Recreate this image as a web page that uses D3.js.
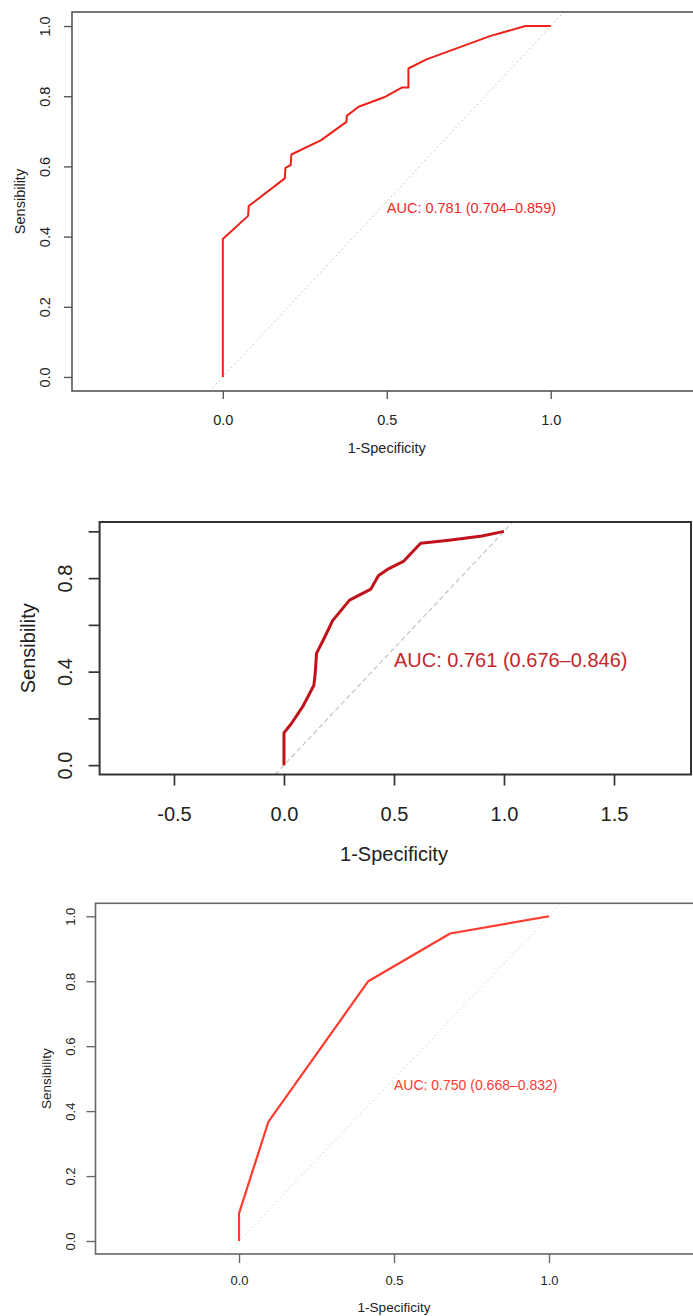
<!DOCTYPE html>
<html>
<head>
<meta charset="utf-8">
<script src="https://cdn.jsdelivr.net/npm/d3@7"></script>
<style>
  html, body { margin: 0; padding: 0; background: #fff; }
  svg { display: block; }
  text { font-family: "Liberation Sans", Arial, sans-serif; }
</style>
</head>
<body>
<svg id="chart" width="693" height="1316"></svg>
<script>
// ---------- Data ----------
const roc1Fpr = [0, 0, 0.077, 0.079, 0.189, 0.191, 0.207, 0.209, 0.300, 0.377, 0.378, 0.414, 0.492, 0.547, 0.566, 0.566, 0.621, 0.817, 0.923, 1.0];
const roc1Tpr = [0, 0.393, 0.459, 0.487, 0.566, 0.596, 0.604, 0.634, 0.675, 0.727, 0.744, 0.770, 0.797, 0.825, 0.825, 0.879, 0.905, 0.972, 1.0, 1.0];

const roc2Fpr = [0, 0, 0.034, 0.085, 0.136, 0.142, 0.148, 0.186, 0.221, 0.298, 0.395, 0.429, 0.470, 0.545, 0.621, 0.75, 0.9, 1.0];
const roc2Tpr = [0, 0.138, 0.178, 0.250, 0.342, 0.392, 0.478, 0.549, 0.618, 0.706, 0.753, 0.810, 0.837, 0.873, 0.949, 0.962, 0.980, 1.0];

const roc3Fpr = [0, 0, 0.095, 0.417, 0.681, 1.0];
const roc3Tpr = [0, 0.085, 0.368, 0.800, 0.947, 1.0];

const aucLabels = ["AUC: 0.781 (0.704\u20130.859)", "AUC: 0.761 (0.676\u20130.846)", "AUC: 0.750 (0.668\u20130.832)"];

const xTicks1 = [0, 0.5, 1.0];
const xTickLabels1 = ["0.0", "0.5", "1.0"];
const xTicks2 = [-0.5, 0, 0.5, 1.0, 1.5];
const xTickLabels2 = ["-0.5", "0.0", "0.5", "1.0", "1.5"];
const yTicks = [0, 0.2, 0.4, 0.6, 0.8, 1.0];
const yTickLabelsFull = ["0.0", "0.2", "0.4", "0.6", "0.8", "1.0"];
const yTickLabelsSparse = ["0.0", "", "0.4", "", "0.8", ""];

const xTitle = "1-Specificity";
const yTitle = "Sensibility";

// ---------- Panel layout ----------
const panels = [
  {
    fpr: roc1Fpr, tpr: roc1Tpr, auc: aucLabels[0],
    xDomain: [-0.46, 1.44], xRange: [72, 695],
    yDomain: [-0.04, 1.04], yRange: [391, 12],
    xTicks: xTicks1, xTickLabels: xTickLabels1,
    yTickLabels: yTickLabelsFull,
    curveColor: "#ee2119", curveWidth: 2, textColor: "#ee2a24",
    frameColor: "#555", frameWidth: 1.6,
    diagColor: "#bdbdbd", diagDash: "1.5,3", diagWidth: 1,
    tickFont: 14.5, titleFont: 14.5, aucFont: 14.5,
    tickLen: 8, yLabOff: 27, xLabOff: 29, xTitleOff: 57, yTitleOff: 52,
    aucPos: [0.5, 0.481]
  },
  {
    fpr: roc2Fpr, tpr: roc2Tpr, auc: aucLabels[1],
    xDomain: [-0.838, 1.85], xRange: [99.6, 691],
    yDomain: [-0.04, 1.04], yRange: [774.5, 522],
    xTicks: xTicks2, xTickLabels: xTickLabels2,
    yTickLabels: yTickLabelsSparse,
    curveColor: "#c0121b", curveWidth: 3, textColor: "#c4262c",
    frameColor: "#333", frameWidth: 2,
    diagColor: "#c4c4c4", diagDash: "5,3", diagWidth: 1.2,
    tickFont: 20, titleFont: 20, aucFont: 20,
    tickLen: 11, yLabOff: 35, xLabOff: 39, xTitleOff: 79, yTitleOff: 72,
    aucPos: [0.5, 0.449]
  },
  {
    fpr: roc3Fpr, tpr: roc3Tpr, auc: aucLabels[2],
    xDomain: [-0.463, 1.5], xRange: [95.5, 704],
    yDomain: [-0.04, 1.04], yRange: [1254, 903.3],
    xTicks: xTicks1, xTickLabels: xTickLabels1,
    yTickLabels: yTickLabelsFull,
    curveColor: "#ff3a2f", curveWidth: 2.2, textColor: "#ff3a30",
    frameColor: "#666", frameWidth: 1.6,
    diagColor: "#cfcfcf", diagDash: "1.5,3", diagWidth: 1,
    tickFont: 13, titleFont: 13.5, aucFont: 14,
    tickLen: 9, yLabOff: 25, xLabOff: 26, xTitleOff: 53, yTitleOff: 49.5,
    aucPos: [0.5, 0.481]
  }
];

const svg = d3.select("#chart");
svg.append("rect").attr("width", 693).attr("height", 1316).attr("fill", "#fff");

panels.forEach((p, i) => {
  const x = d3.scaleLinear().domain(p.xDomain).range(p.xRange);
  const y = d3.scaleLinear().domain(p.yDomain).range(p.yRange);
  const g = svg.append("g");

  const clipId = "clip" + i;
  svg.append("clipPath").attr("id", clipId)
    .append("rect")
    .attr("x", p.xRange[0]).attr("y", p.yRange[1])
    .attr("width", p.xRange[1] - p.xRange[0])
    .attr("height", p.yRange[0] - p.yRange[1]);

  // diagonal reference line
  const lo = p.yDomain[0], hi = p.yDomain[1];
  g.append("line")
    .attr("clip-path", `url(#${clipId})`)
    .attr("x1", x(lo)).attr("y1", y(lo))
    .attr("x2", x(hi)).attr("y2", y(hi))
    .attr("stroke", p.diagColor).attr("stroke-width", p.diagWidth)
    .attr("stroke-dasharray", p.diagDash);

  // ROC curve
  const pts = p.fpr.map((f, k) => [f, p.tpr[k]]);
  g.append("path")
    .datum(pts)
    .attr("fill", "none")
    .attr("stroke", p.curveColor)
    .attr("stroke-width", p.curveWidth)
    .attr("stroke-linejoin", "round")
    .attr("d", d3.line().x(d => x(d[0])).y(d => y(d[1])));

  // frame
  g.append("rect")
    .attr("x", p.xRange[0]).attr("y", p.yRange[1])
    .attr("width", p.xRange[1] - p.xRange[0])
    .attr("height", p.yRange[0] - p.yRange[1])
    .attr("fill", "none")
    .attr("stroke", p.frameColor).attr("stroke-width", p.frameWidth);

  // x axis
  const xAxis = d3.axisBottom(x).tickValues(p.xTicks)
    .tickFormat((d, k) => p.xTickLabels[k])
    .tickSize(p.tickLen).tickPadding(0);
  const xa = g.append("g").attr("transform", `translate(0,${p.yRange[0]})`).call(xAxis);
  xa.select(".domain").remove();
  xa.selectAll(".tick line").attr("stroke", p.frameColor).attr("stroke-width", p.frameWidth * 0.85);
  xa.selectAll(".tick text")
    .attr("y", p.xLabOff).attr("dy", "0.35em")
    .attr("fill", "#222").attr("font-size", p.tickFont)
    .attr("font-family", "'Liberation Sans', Arial, sans-serif");

  // y axis
  const yAxis = d3.axisLeft(y).tickValues(yTicks)
    .tickFormat((d, k) => p.yTickLabels[k])
    .tickSize(p.tickLen).tickPadding(0);
  const ya = g.append("g").attr("transform", `translate(${p.xRange[0]},0)`).call(yAxis);
  ya.select(".domain").remove();
  ya.selectAll(".tick line").attr("stroke", p.frameColor).attr("stroke-width", p.frameWidth * 0.85);
  ya.selectAll(".tick text")
    .attr("x", null).attr("dy", null)
    .attr("transform", `translate(${-p.yLabOff},0) rotate(-90)`)
    .attr("text-anchor", "middle")
    .attr("dominant-baseline", "central")
    .attr("fill", "#222").attr("font-size", p.tickFont)
    .attr("font-family", "'Liberation Sans', Arial, sans-serif");

  // titles
  const xMid = x(0.5);
  g.append("text")
    .attr("x", xMid).attr("y", p.yRange[0] + p.xTitleOff)
    .attr("text-anchor", "middle").attr("dominant-baseline", "central")
    .attr("font-size", p.titleFont).attr("fill", "#222")
    .text(xTitle);
  const yMid = y(0.5);
  g.append("text")
    .attr("transform", `translate(${p.xRange[0] - p.yTitleOff},${yMid}) rotate(-90)`)
    .attr("text-anchor", "middle").attr("dominant-baseline", "central")
    .attr("font-size", p.titleFont).attr("fill", "#222")
    .text(yTitle);

  // AUC label
  g.append("text")
    .attr("x", x(p.aucPos[0])).attr("y", y(p.aucPos[1]))
    .attr("dominant-baseline", "central")
    .attr("font-size", p.aucFont).attr("fill", p.textColor)
    .text(p.auc);
});
</script>
</body>
</html>
